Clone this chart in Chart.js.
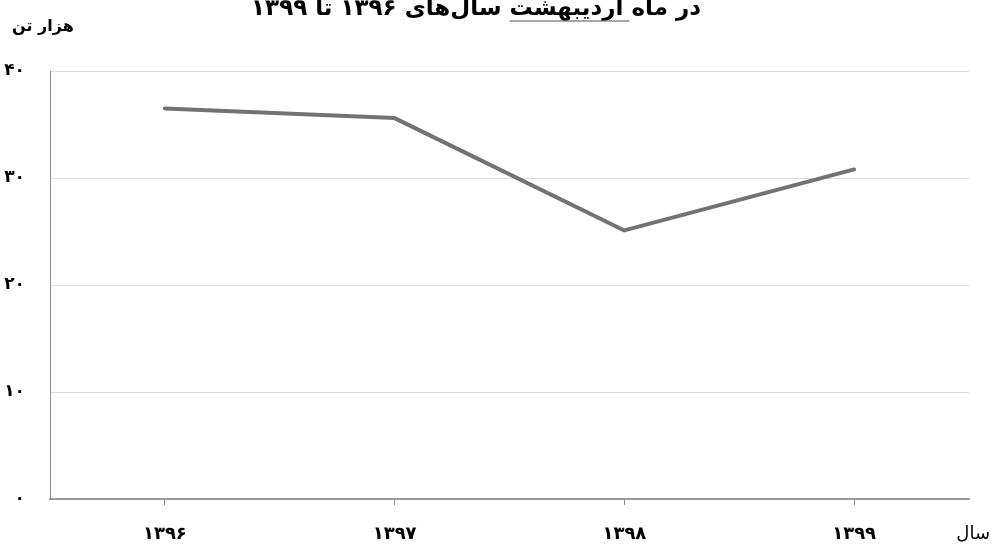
<!DOCTYPE html>
<html lang="fa">
<head>
<meta charset="utf-8">
<title>اردیبهشت ۱۳۹۶ تا ۱۳۹۹</title>
<script src="https://cdn.jsdelivr.net/npm/chart.js@4/dist/chart.umd.min.js"></script>
<style>
	html, body { margin: 0; padding: 0; background: #fff; }
	#wrap { width: 992px; height: 544px; position: relative; }
</style>
</head>
<body>
<div id="wrap"><canvas id="chart"></canvas></div>
<script>
const years = ['۱۳۹۶', '۱۳۹۷', '۱۳۹۸', '۱۳۹۹'];
const production = [36.5, 35.6, 25.1, 30.8];
const yTickLabels = ['۰', '۱۰', '۲۰', '۳۰', '۴۰'];

const titleText = 'در ماه اردیبهشت سال‌های ۱۳۹۶ تا ۱۳۹۹';
const underlined = 'اردیبهشت';
const titleBefore = 'در ماه ';
const yUnit = 'هزار تن';
const xUnit = 'سال';

const FONT = '"DejaVu Sans", sans-serif';

// title (cut at the top like the source image) and the axis unit labels
const textPlugin = {
	id: 'persianText',
	afterDraw(chart) {
		const ctx = chart.ctx;
		ctx.save();
		ctx.fillStyle = '#000';
		ctx.direction = 'rtl';
		ctx.textBaseline = 'alphabetic';

		ctx.font = 'bold 23px ' + FONT;
		ctx.textAlign = 'center';
		const cx = 476, base = 15;
		ctx.fillText(titleText, cx, base);

		const full = ctx.measureText(titleText).width;
		const right = cx + full / 2;
		const x1 = right - ctx.measureText(titleBefore).width;
		const x0 = x1 - ctx.measureText(underlined).width;
		ctx.strokeStyle = '#555';
		ctx.lineWidth = 1.2;
		ctx.beginPath();
		ctx.moveTo(x0, 21);
		ctx.lineTo(x1 + 6, 21);
		ctx.stroke();

		ctx.font = 'bold 16px ' + FONT;
		ctx.textAlign = 'left';
		ctx.fillText(yUnit, 12, 31);

		ctx.font = '18px ' + FONT;
		ctx.textAlign = 'right';
		ctx.fillText(xUnit, 990, 539);
		ctx.restore();
	}
};

new Chart(document.getElementById('chart'), {
	type: 'line',
	data: {
		labels: years,
		datasets: [{
			data: production,
			borderColor: '#767171',
			borderWidth: 4,
			borderCapStyle: 'round',
			borderJoinStyle: 'round',
			pointRadius: 0,
			tension: 0
		}]
	},
	options: {
		responsive: true,
		maintainAspectRatio: false,
		animation: false,
		layout: {
			padding: { top: 71, right: 23, left: 0, bottom: 0 }
		},
		plugins: {
			legend: { display: false },
			tooltip: { enabled: false }
		},
		scales: {
			x: {
				offset: true,
				afterFit: (s) => { s.height = 45; },
				grid: {
					offset: false,
					drawOnChartArea: false,
					drawTicks: true,
					tickLength: 6,
					color: '#8c8c8c'
				},
				border: { color: '#9a9a9a', width: 2 },
				ticks: {
					color: '#000',
					padding: 19,
					font: { family: FONT, size: 18, weight: 'bold' }
				}
			},
			y: {
				min: 0,
				max: 40,
				afterFit: (s) => { s.width = 50; },
				grid: {
					color: '#dcdcdc',
					drawTicks: false
				},
				border: { color: '#8c8c8c', width: 1 },
				ticks: {
					stepSize: 10,
					color: '#000',
					padding: 25,
					crossAlign: 'near',
					font: { family: FONT, size: 17, weight: 'bold' },
					callback: (v, i) => yTickLabels[i]
				}
			}
		}
	},
	plugins: [textPlugin]
});
</script>
</body>
</html>
